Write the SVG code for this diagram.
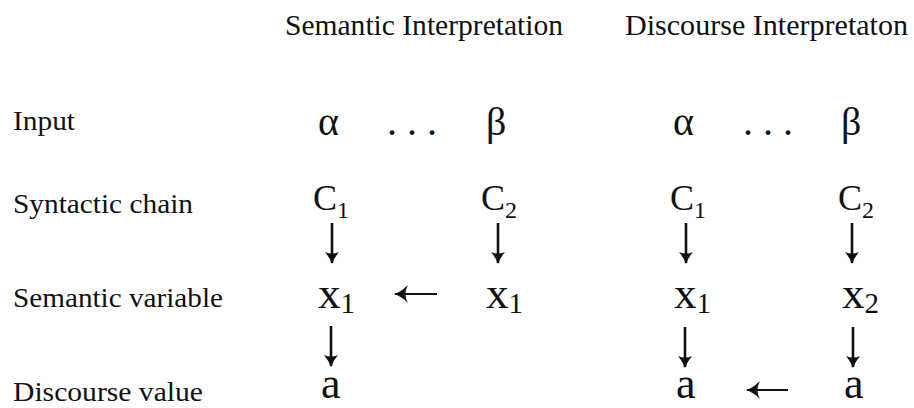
<svg xmlns="http://www.w3.org/2000/svg" width="914" height="408" viewBox="0 0 914 408">
<defs>
<style>
text{font-family:"Liberation Serif","Times New Roman",serif;fill:#111}
.h{font-size:29px}
.l{font-size:27px}
.g{font-size:40px}
.c{font-size:36px}
.v{font-size:45px}
.va{font-size:44px}
.s1{font-size:24px}
.s2{font-size:29px}
.down{stroke:#111;stroke-width:2.6;fill:none;marker-end:url(#ahd)}
.left{stroke:#111;stroke-width:2;fill:none;marker-end:url(#ahl)}
</style>
<marker id="ahd" viewBox="0 0 12 14" refX="11" refY="7" markerWidth="12" markerHeight="14" markerUnits="userSpaceOnUse" orient="auto">
<path d="M0,0 Q6,5 12,7 Q6,9 0,14 Q3,7 0,0 Z" fill="#111"/>
</marker>
<marker id="ahl" viewBox="0 0 14 18" refX="13" refY="9" markerWidth="14" markerHeight="18" markerUnits="userSpaceOnUse" orient="auto">
<path d="M0,0 Q7,7 14,9 Q7,11 0,18 Q5,9 0,0 Z" fill="#111"/>
</marker>
</defs>
<g id="headings">
<text class="h" x="285" y="35" textLength="278" lengthAdjust="spacingAndGlyphs">Semantic Interpretation</text>
<text class="h" x="625" y="35" textLength="283" lengthAdjust="spacingAndGlyphs">Discourse Interpretaton</text>
</g>
<g id="row-labels">
<text class="l" x="13" y="130" textLength="62" lengthAdjust="spacingAndGlyphs">Input</text>
<text class="l" x="13" y="213" textLength="180" lengthAdjust="spacingAndGlyphs">Syntactic chain</text>
<text class="l" x="13" y="307" textLength="210" lengthAdjust="spacingAndGlyphs">Semantic variable</text>
<text class="l" x="13" y="401" textLength="190" lengthAdjust="spacingAndGlyphs">Discourse value</text>
</g>
<g id="sem-input">
<text class="g" x="318" y="135">α</text>
<text class="g" x="387" y="135">. . .</text>
<text class="g" x="486" y="135">β</text>
</g>
<g id="disc-input">
<text class="g" x="673" y="135">α</text>
<text class="g" x="743" y="135">. . .</text>
<text class="g" x="841" y="135">β</text>
</g>
<g id="sem-C1"><text class="c" x="313" y="210">C<tspan class="s1" dy="8">1</tspan></text></g>
<g id="sem-C2"><text class="c" x="481" y="210">C<tspan class="s1" dy="8">2</tspan></text></g>
<g id="disc-C1"><text class="c" x="670" y="210">C<tspan class="s1" dy="8">1</tspan></text></g>
<g id="disc-C2"><text class="c" x="838" y="210">C<tspan class="s1" dy="8">2</tspan></text></g>
<g id="sem-x1a"><text class="v" x="318" y="308">x<tspan class="s2" dy="5">1</tspan></text></g>
<g id="sem-x1b"><text class="v" x="486" y="308">x<tspan class="s2" dy="5">1</tspan></text></g>
<g id="disc-x1"><text class="v" x="674" y="308">x<tspan class="s2" dy="5">1</tspan></text></g>
<g id="disc-x2"><text class="v" x="842" y="308">x<tspan class="s2" dy="5">2</tspan></text></g>
<g id="sem-a"><text class="va" x="321" y="398">a</text></g>
<g id="disc-a1"><text class="va" x="676" y="398">a</text></g>
<g id="disc-a2"><text class="va" x="844" y="398">a</text></g>
<g id="connectors">
<line class="down" x1="332" y1="223" x2="332" y2="263"/>
<line class="down" x1="498" y1="223" x2="498" y2="263"/>
<line class="down" x1="686" y1="223" x2="686" y2="263"/>
<line class="down" x1="852" y1="223" x2="852" y2="263"/>
<line class="left" x1="437" y1="294" x2="395" y2="294"/>
<line class="down" x1="331" y1="326" x2="331" y2="366"/>
<line class="down" x1="685" y1="327" x2="685" y2="367"/>
<line class="down" x1="853" y1="327" x2="853" y2="367"/>
<line class="left" x1="788" y1="390" x2="747" y2="390"/>
</g>
</svg>
